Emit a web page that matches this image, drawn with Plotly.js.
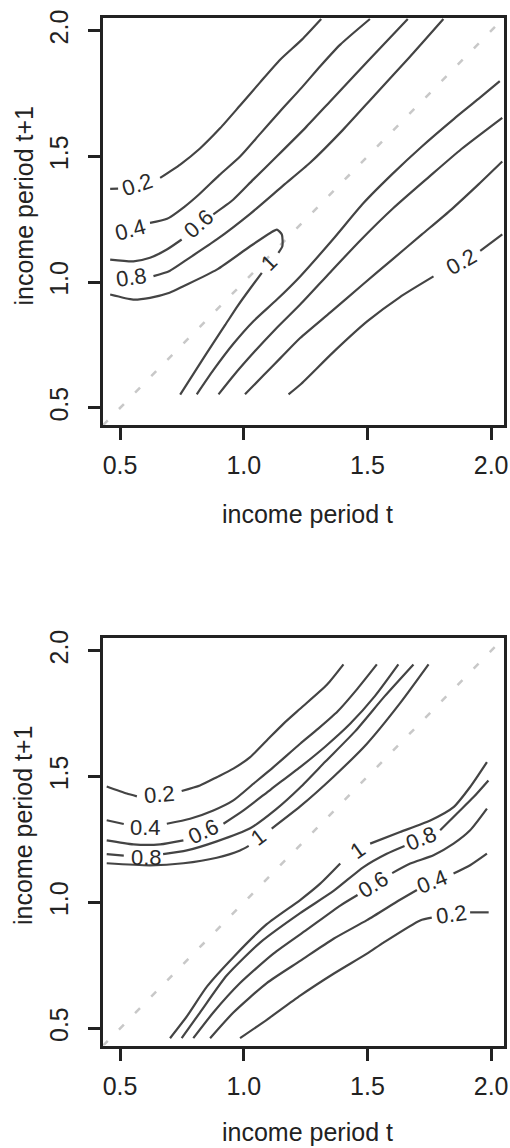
<!DOCTYPE html>
<html>
<head>
<meta charset="utf-8">
<script src="https://cdn.plot.ly/plotly-3.0.1.min.js"></script>
<style>html,body{margin:0;padding:0;background:#fff;}#chart{width:510px;height:1148px;}</style>
</head>
<body>
<div id="chart"></div>
<script>
// ---------- axis ticks ----------
const tickVals = [0.5, 1.0, 1.5, 2.0];
const tickText = ["0.5", "1.0", "1.5", "2.0"];
const diagX = [0.3, 2.2];
const diagY = [0.3, 2.2];

// ---------- upper panel: contour lines (null = gap where a label sits) ----------
const p1_02a_x = [0.46, 0.492, null, 0.662, 0.743, 0.823, 0.904, 0.985, 1.066, 1.147, 1.235, 1.313];
const p1_02a_y = [1.371, 1.372, null, 1.415, 1.468, 1.532, 1.612, 1.703, 1.795, 1.885, 1.965, 2.047];
const p1_04a_x = [0.621, 0.69, 0.76, 0.82, 0.90, 0.985, 1.066, 1.147, 1.235, 1.31, 1.39, 1.51];
const p1_04a_y = [1.236, 1.252, 1.30, 1.35, 1.425, 1.50, 1.59, 1.68, 1.775, 1.86, 1.945, 2.047];
const p1_06a_x = [0.46, 0.554, 0.621, 0.689, 0.749, null, 0.877, 0.958, 1.039, 1.134, 1.25, 1.35, 1.45, 1.55, 1.663];
const p1_06a_y = [1.09, 1.083, 1.097, 1.13, 1.17, null, 1.27, 1.329, 1.409, 1.501, 1.615, 1.72, 1.825, 1.93, 2.047];
const p1_08a_x = [0.635, 0.70, 0.77, 0.891, 1.026, 1.16, 1.268, 1.40, 1.53, 1.67, 1.807];
const p1_08a_y = [1.024, 1.045, 1.09, 1.17, 1.272, 1.385, 1.475, 1.605, 1.745, 1.895, 2.047];
const p1_10_x = [0.46, 0.553, 0.621, 0.70, 0.756, 0.891, 1.026, 1.107, 1.134, 1.154, 1.156, 1.140, null, 1.073, 1.026, 0.975, 0.925, 0.876, 0.823, 0.743];
const p1_10_y = [0.951, 0.931, 0.938, 0.958, 0.984, 1.05, 1.143, 1.196, 1.209, 1.19, 1.143, 1.117, null, 1.037, 0.975, 0.905, 0.83, 0.757, 0.676, 0.553];
const p1_08b_x = [0.81, 0.877, 0.958, 1.039, 1.134, 1.228, 1.36, 1.484, 1.60, 1.72, 1.85, 1.95, 2.035];
const p1_08b_y = [0.554, 0.65, 0.755, 0.845, 0.931, 1.023, 1.17, 1.315, 1.43, 1.54, 1.65, 1.73, 1.80];
const p1_06b_x = [0.898, 0.96, 1.04, 1.13, 1.228, 1.35, 1.47, 1.605, 1.75, 1.88, 2.045];
const p1_06b_y = [0.554, 0.63, 0.72, 0.815, 0.911, 1.04, 1.165, 1.295, 1.42, 1.53, 1.654];
const p1_04b_x = [1.005, 1.08, 1.15, 1.228, 1.35, 1.48, 1.60, 1.72, 1.84, 1.95, 2.045];
const p1_04b_y = [0.554, 0.63, 0.70, 0.778, 0.88, 0.99, 1.09, 1.19, 1.29, 1.39, 1.48];
const p1_02b_x = [1.181, 1.228, 1.36, 1.50, 1.63, 1.767, null, 1.956, 2.045];
const p1_02b_y = [0.554, 0.592, 0.72, 0.845, 0.94, 1.023, null, 1.125, 1.19];

const p1LabelText = ["0.2", "0.4", "0.6", "0.8", "1", "0.2"];
const p1LabelX = [0.571, 0.544, 0.818, 0.545, 1.103, 1.881];
const p1LabelY = [1.389, 1.209, 1.235, 1.018, 1.078, 1.082];
const p1LabelAngle = [-18, -15, -42, -8, -45, -30];

// ---------- lower panel: contour lines ----------
const p2_02a_x = [0.446, 0.527, 0.568, null, 0.749, 0.823, 0.891, 0.958, 1.026, 1.093, 1.160, 1.228, 1.336, 1.403];
const p2_02a_y = [1.461, 1.433, 1.422, null, 1.443, 1.465, 1.498, 1.532, 1.578, 1.644, 1.710, 1.770, 1.865, 1.946];
const p2_04a_x = [0.446, 0.515, null, 0.689, 0.783, 0.877, 0.958, 1.039, 1.120, 1.228, 1.30, 1.38, 1.46, 1.538];
const p2_04a_y = [1.327, 1.312, null, 1.313, 1.333, 1.366, 1.406, 1.472, 1.538, 1.631, 1.69, 1.76, 1.85, 1.946];
const p2_06a_x = [0.446, 0.554, 0.662, 0.756, null, 0.918, 0.999, 1.11, 1.228, 1.33, 1.43, 1.53, 1.625];
const p2_06a_y = [1.247, 1.231, 1.231, 1.247, null, 1.313, 1.366, 1.45, 1.538, 1.62, 1.71, 1.82, 1.946];
const p2_08a_x = [0.446, 0.515, null, 0.674, 0.770, 0.891, 1.026, 1.13, 1.228, 1.33, 1.45, 1.57, 1.686];
const p2_08a_y = [1.192, 1.186, null, 1.192, 1.207, 1.243, 1.295, 1.37, 1.457, 1.56, 1.68, 1.82, 1.946];
const p2_10a_x = [0.446, 0.621, 0.756, 0.891, 0.985, 1.02, null, 1.113, 1.228, 1.363, 1.498, 1.632, 1.747];
const p2_10a_y = [1.156, 1.148, 1.156, 1.178, 1.207, 1.225, null, 1.294, 1.382, 1.50, 1.631, 1.792, 1.946];
const p2_10b_x = [0.702, 0.770, 0.851, 0.958, 1.093, 1.228, 1.309, 1.39, null, 1.511, 1.632, 1.754, 1.848, 1.915, 1.983];
const p2_10b_y = [0.461, 0.548, 0.666, 0.783, 0.914, 1.01, 1.075, 1.155, null, 1.234, 1.28, 1.326, 1.379, 1.459, 1.558];
const p2_08b_x = [0.749, 0.823, 0.931, 1.066, 1.228, 1.363, 1.484, 1.578, 1.65, null, 1.794, 1.861, 1.929, 1.989];
const p2_08b_y = [0.461, 0.563, 0.710, 0.841, 0.958, 1.046, 1.141, 1.194, 1.225, null, 1.287, 1.353, 1.419, 1.485];
const p2_06b_x = [0.796, 0.877, 0.985, 1.120, 1.255, 1.390, 1.46, null, 1.60, 1.673, 1.767, 1.848, 1.915, 1.983];
const p2_06b_y = [0.461, 0.563, 0.680, 0.797, 0.892, 0.988, 1.03, null, 1.117, 1.155, 1.188, 1.234, 1.287, 1.373];
const p2_04b_x = [0.864, 0.958, 1.093, 1.228, 1.363, 1.498, 1.63, 1.70, null, 1.848, 1.915, 1.983];
const p2_04b_y = [0.461, 0.563, 0.680, 0.768, 0.856, 0.93, 1.01, 1.05, null, 1.115, 1.148, 1.194];
const p2_02b_x = [0.985, 1.093, 1.228, 1.363, 1.498, 1.565, 1.713, 1.76, null, 1.915, 1.99];
const p2_02b_y = [0.461, 0.534, 0.63, 0.717, 0.797, 0.841, 0.929, 0.94, null, 0.961, 0.961];

const p2LabelText = ["0.2", "0.4", "0.6", "0.8", "1", "1", "0.8", "0.6", "0.4", "0.2"];
const p2LabelX = [0.658, 0.601, 0.836, 0.605, 1.056, 1.46, 1.717, 1.524, 1.763, 1.838];
const p2LabelY = [1.428, 1.30, 1.283, 1.178, 1.260, 1.205, 1.253, 1.071, 1.082, 0.954];
const p2LabelAngle = [-5, 0, -25, 0, -37, -35, -22, -32, -22, -8];

const xTitle = "income period t";
const yTitle = "income period t+1";

// ---------- build ----------
const FONT = "Liberation Sans, Arial, Helvetica, sans-serif";
const INK = "#222222";
const LINE = "#444444";

function contour(x, y, xa, ya) {
  return {type: "scatter", mode: "lines", x: x, y: y, xaxis: xa, yaxis: ya,
    line: {color: LINE, width: 2.2, shape: "spline", smoothing: 0.6},
    connectgaps: false, hoverinfo: "skip", showlegend: false};
}
function diag(xa, ya) {
  return {type: "scatter", mode: "lines", x: diagX, y: diagY, xaxis: xa, yaxis: ya,
    line: {color: "#c8c8c8", width: 2.5, dash: "7px,16px"}, hoverinfo: "skip", showlegend: false};
}

const traces = [
  diag("x", "y"),
  contour(p1_02a_x, p1_02a_y, "x", "y"),
  contour(p1_04a_x, p1_04a_y, "x", "y"),
  contour(p1_06a_x, p1_06a_y, "x", "y"),
  contour(p1_08a_x, p1_08a_y, "x", "y"),
  contour(p1_10_x, p1_10_y, "x", "y"),
  contour(p1_08b_x, p1_08b_y, "x", "y"),
  contour(p1_06b_x, p1_06b_y, "x", "y"),
  contour(p1_04b_x, p1_04b_y, "x", "y"),
  contour(p1_02b_x, p1_02b_y, "x", "y"),
  diag("x2", "y2"),
  contour(p2_02a_x, p2_02a_y, "x2", "y2"),
  contour(p2_04a_x, p2_04a_y, "x2", "y2"),
  contour(p2_06a_x, p2_06a_y, "x2", "y2"),
  contour(p2_08a_x, p2_08a_y, "x2", "y2"),
  contour(p2_10a_x, p2_10a_y, "x2", "y2"),
  contour(p2_10b_x, p2_10b_y, "x2", "y2"),
  contour(p2_08b_x, p2_08b_y, "x2", "y2"),
  contour(p2_06b_x, p2_06b_y, "x2", "y2"),
  contour(p2_04b_x, p2_04b_y, "x2", "y2"),
  contour(p2_02b_x, p2_02b_y, "x2", "y2")
];

function xAxis(anchor) {
  return {domain: [103/510, 504/510], anchor: anchor, range: [0.431, 2.052],
    tickmode: "array", tickvals: tickVals, ticktext: tickText,
    ticks: "outside", ticklen: 12, tickwidth: 3, tickcolor: INK,
    showline: true, linewidth: 3, linecolor: INK, mirror: true,
    showgrid: false, zeroline: false, ticklabelstandoff: 4,
    tickfont: {family: FONT, size: 25, color: INK}, fixedrange: true};
}
function yAxis(domain, anchor) {
  return {domain: domain, anchor: anchor, range: [0.432, 2.053],
    tickmode: "array", tickvals: tickVals, ticktext: tickText, tickangle: -90,
    ticks: "outside", ticklen: 12, tickwidth: 3, tickcolor: INK,
    showline: true, linewidth: 3, linecolor: INK, mirror: true,
    showgrid: false, zeroline: false, ticklabelstandoff: 10,
    tickfont: {family: FONT, size: 25, color: INK}, fixedrange: true};
}

const annotations = [];
function addLabels(texts, xs, ys, angs, xr, yr) {
  for (let i = 0; i < texts.length; i++) {
    annotations.push({xref: xr, yref: yr, x: xs[i], y: ys[i], text: texts[i],
      textangle: angs[i], showarrow: false, xanchor: "center", yanchor: "middle",
      font: {family: FONT, size: 22, color: "#2a2a2a"}});
  }
}
addLabels(p1LabelText, p1LabelX, p1LabelY, p1LabelAngle, "x", "y");
addLabels(p2LabelText, p2LabelX, p2LabelY, p2LabelAngle, "x2", "y2");

function addTitles(xCenterY, yCenterY) {
  annotations.push({xref: "paper", yref: "paper", x: 307/510, y: 1 - xCenterY/1148,
    text: xTitle, showarrow: false, xanchor: "center", yanchor: "middle",
    font: {family: FONT, size: 25, color: INK}});
  annotations.push({xref: "paper", yref: "paper", x: 23/510, y: 1 - yCenterY/1148,
    text: yTitle, textangle: -90, showarrow: false, xanchor: "center", yanchor: "middle",
    font: {family: FONT, size: 25, color: INK}});
}
addTitles(514, 206.5);
addTitles(1132, 826);

const layout = {
  width: 510, height: 1148,
  margin: {l: 0, r: 0, t: 0, b: 0},
  paper_bgcolor: "#ffffff", plot_bgcolor: "#ffffff",
  showlegend: false,
  xaxis: xAxis("y"),
  yaxis: yAxis([1 - 425/1148, 1 - 17.5/1148], "x"),
  xaxis2: xAxis("y2"),
  yaxis2: yAxis([1 - 1045.5/1148, 1 - 637.5/1148], "x2"),
  annotations: annotations
};

Plotly.newPlot("chart", traces, layout, {displayModeBar: false, staticPlot: true});
</script>
</body>
</html>
